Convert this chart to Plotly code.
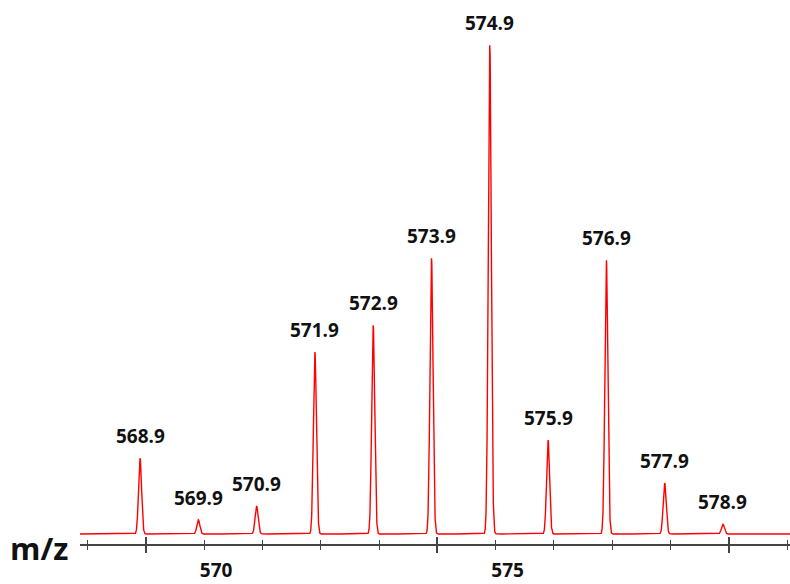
import numpy as np
import plotly.graph_objects as go

# Isotope cluster: peak centroids (m/z) and relative intensities (%)
mz_peaks = [568.9, 569.9, 570.9, 571.9, 572.9, 573.9, 574.9, 575.9, 576.9, 577.9, 578.9]
intensity = [15.5, 2.9, 5.7, 37.2, 42.7, 56.4, 100.0, 19.2, 56.0, 10.4, 2.0]
peak_labels = [f"{m:.1f}" for m in mz_peaks]

# Axis ticks
major_ticks = [569, 574, 579]
label_vals = [570, 575]
label_text = ["570", "575"]

x_range = [567.87, 580.05]
peak_sigma = 0.026  # instrument peak width (m/z)

# Profile spectrum built from the centroid list
x = np.linspace(x_range[0], x_range[1], 6000)
y = np.zeros_like(x)
for m, h in zip(mz_peaks, intensity):
    y += h * np.exp(-0.5 * ((x - m) / peak_sigma) ** 2)

fig = go.Figure()
fig.add_trace(go.Scatter(x=x, y=y, mode="lines",
                         line=dict(color="#ff0000", width=1.4),
                         hoverinfo="skip", showlegend=False))
# invisible traces so the extra axes get drawn
fig.add_trace(go.Scatter(x=[x_range[0]], y=[0], xaxis="x2", mode="markers",
                         marker=dict(opacity=0), showlegend=False, hoverinfo="skip"))
fig.add_trace(go.Scatter(x=[x_range[0]], y=[0], xaxis="x3", mode="markers",
                         marker=dict(opacity=0), showlegend=False, hoverinfo="skip"))

label_font = dict(family="Open Sans", size=19, color="#111111", weight="bold")

for m, h, t in zip(mz_peaks, intensity, peak_labels):
    fig.add_annotation(x=m, y=h, text=t, showarrow=False, yanchor="bottom",
                       yshift=7, font=label_font)

fig.add_annotation(x=0, xref="paper", xanchor="right", xshift=-10,
                   y=0, yref="paper", yanchor="middle", yshift=-4,
                   text="<b>m/z</b>", showarrow=False,
                   font=dict(family="Open Sans", size=31, color="#111111"))

axis_color = "#444444"
common = dict(range=x_range, showgrid=False, zeroline=False, fixedrange=True,
              automargin=False)

fig.update_layout(
    width=790, height=584,
    margin=dict(l=80, r=0, t=0, b=40, autoexpand=False),
    paper_bgcolor="white", plot_bgcolor="white",
    font=dict(family="Open Sans", color="#111111"),
    xaxis=dict(**common, showline=True, linecolor=axis_color, linewidth=1.5,
               tickmode="array", tickvals=major_ticks, ticks="outside",
               ticklen=7, tickwidth=1.5, tickcolor=axis_color, showticklabels=False,
               minor=dict(tick0=568, dtick=1, ticks="outside", ticklen=4,
                          tickwidth=1.2, tickcolor=axis_color)),
    xaxis2=dict(**common, overlaying="x", anchor="y", side="bottom", showline=False,
                tickmode="array", tickvals=major_ticks, ticks="inside",
                ticklen=7, tickwidth=1.5, tickcolor=axis_color, showticklabels=False,
                minor=dict(tick0=568, dtick=1, ticks="inside", ticklen=4,
                           tickwidth=1.2, tickcolor=axis_color)),
    xaxis3=dict(**common, overlaying="x", anchor="y", side="bottom", showline=False,
                tickmode="array", tickvals=label_vals, ticktext=label_text, ticks="",
                ticklabelshift=12, ticklabelstandoff=13, tickfont=label_font),
    yaxis=dict(range=[-2.05, 109.2], visible=False, fixedrange=True, automargin=False),
)

fig.write_html("out.html")
